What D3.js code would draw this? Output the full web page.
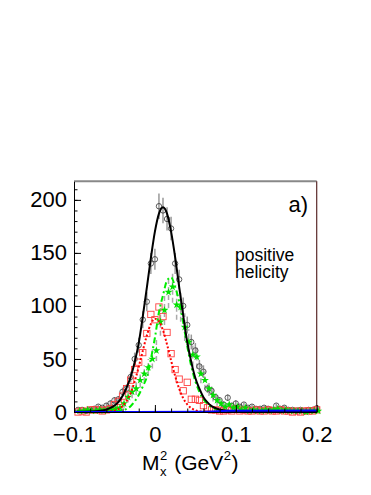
<!DOCTYPE html>
<html lang="en">
<head>
<meta charset="UTF-8">
<title>Missing mass squared, positive helicity</title>
<script src="https://d3js.org/d3.v7.min.js"></script>
<style>
  body { margin: 0; background: #fff; font-family: "Liberation Sans", Arial, sans-serif; }
  svg { display: block; }
  .axis text { font-family: "Liberation Sans", Arial, sans-serif; font-size: 22px; fill: #000; }
  .axis path, .axis line { stroke: #000; stroke-width: 1; }
</style>
</head>
<body>
<svg width="371" height="495"></svg>
<script>
// bin centres of the M_x^2 histograms (GeV^2), 0.005 wide
const binCenters = d3.range(60).map(i => +(-0.095 + 0.005 * i).toFixed(3));

// all events (open circles)
const totalCounts = [2, 2, 1, 2, 3, 5, 4, 6, 8, 11, 12, 19, 22, 33, 50, 63, 87, 104, 140, 144,
  194, 190, 182, 173, 140, 125, 100, 82, 66, 58, 43, 38, 22, 20, 14, 11, 7, 13.5, 6, 8,
  5, 7, 4, 5, 3, 3, 4, 3, 2, 6, 3, 4, 2, 2, 1, 2, 1, 2, 2, 3.5];
const totalErr = [1.5, 1.5, 1, 1.5, 2, 2, 2, 2.5, 3, 3, 3, 4, 4, 5, 6, 7, 8, 9, 10, 10,
  12, 12, 11, 11, 10, 9, 8, 8, 7, 7, 6, 6, 4, 4, 3, 3, 3, 3, 2, 3,
  2, 2, 2, 2, 2, 2, 2, 2, 2, 2, 2, 2, 2, 2, 2, 2, 2, 2, 2, 2];

// first component (red squares)
const redCounts = [0, 1, 0, 2, 2, 2, 1, 2, 3, 7, 10, 15, 22, 30, 40, 47, 56, 74, 92, 87,
  99, 90, 75, 55, 40, 31, 20, 28, 12, 12, 11, 6, 4, 2, 2, 1, 1, 2, 1, 3,
  1, 2, 1, 1, 2, 1, 1, 2, 1, 1, 2, 1, 1, 0, 1, 0, 1, 1, 1, 2];

// second component (green stars)
const greenCounts = [1, 1, 2, 1, 1, 2, 1, 2, 2, 3, 4, 8, 14, 19, 22, 30, 36, 42, 50, 58,
  85, 96, 113, 118, 101, 99, 80, 66, 54, 52, 36, 30, 22, 16, 11, 8, 5, 7, 4, 5,
  2, 4, 1, 2, 1, 1, 2, 1, 2, 3, 1, 2, 1, 1, 1, 1, 0, 1, 1, 1];
const greenErr = [1.5, 1.5, 1.5, 1.5, 1.5, 1.5, 1.5, 1.5, 1.5, 1.5, 1.5, 4, 5, 6, 6, 7, 8, 8, 9, 10,
  13, 14, 15, 15, 14, 14, 13, 12, 11, 11, 9, 9, 7, 6, 5, 4, 3, 3, 3, 3,
  2, 2, 2, 2, 2, 2, 2, 2, 2, 2, 2, 2, 2, 2, 2, 2, 2, 2, 2, 2];

// fitted curves, sampled on a common grid
const fitGrid = [-0.1, -0.08, -0.07, -0.06, -0.055, -0.05, -0.045, -0.04, -0.035, -0.03, -0.025,
  -0.02, -0.015, -0.01, -0.005, 0, 0.005, 0.01, 0.015, 0.02, 0.025, 0.03, 0.035, 0.04, 0.045,
  0.05, 0.055, 0.06, 0.065, 0.07, 0.08, 0.09, 0.1, 0.2];
const totalFit = [0.2, 0.5, 1.0, 2.2, 3.8, 6, 9.5, 15, 23, 33, 47,
  65, 90, 117, 145, 170, 187, 193, 187, 170, 146, 118, 91, 66, 47,
  32, 22, 14, 9, 5.5, 2.3, 1.1, 0.8, 0.8];
const redFit = [0, 0, 0, 0.3, 0.7, 1.2, 2.8, 5.5, 10.4, 18, 28.8,
  42.5, 57.6, 72, 83, 88, 85.7, 77, 63.7, 48.5, 34, 22, 13, 7.1, 3.6,
  1.7, 0.7, 0.3, 0.1, 0, 0, 0, 0, 0];
const greenFit = [0, 0, 0, 0, 0, 0.4, 0.8, 1.5, 3, 5.5, 10,
  16, 24, 33, 50, 70, 94, 110, 124, 127, 118, 104, 84, 62, 43,
  29, 19, 12, 7.5, 4.5, 1.8, 0.8, 0.5, 0.3];

// background
const bgX = [-0.1, 0.06, 0.09, 0.2];
const bgY = [0, 0.2, 1.1, 1.5];

const xTicks = [-0.1, 0, 0.1, 0.2];
const yTicks = [0, 50, 100, 150, 200];

const svg = d3.select("svg");
const plotLeft = 74, plotRight = 316.7, plotTop = 181.3, plotBottom = 412;

const x = d3.scaleLinear().domain([-0.1, 0.2]).range([plotLeft, plotRight]);
const y = d3.scaleLinear().domain([0, 217.5]).range([plotBottom, plotTop]);

// frame (top and right edges)
svg.append("line")
  .attr("x1", plotLeft).attr("x2", plotRight).attr("y1", plotTop).attr("y2", plotTop)
  .attr("stroke", "#888").attr("stroke-width", 2);
svg.append("line")
  .attr("x1", plotRight).attr("x2", plotRight).attr("y1", plotTop).attr("y2", plotBottom)
  .attr("stroke", "#5a2a2a").attr("stroke-width", 1.2);

const plot = svg.append("g");

// error bars
plot.selectAll(".err-total")
  .data(binCenters)
  .enter().append("line")
  .attr("x1", d => x(d)).attr("x2", d => x(d))
  .attr("y1", (d, i) => y(Math.max(0, totalCounts[i] - totalErr[i])))
  .attr("y2", (d, i) => y(totalCounts[i] + totalErr[i]))
  .attr("stroke", "#999").attr("stroke-width", 1.5);

plot.selectAll(".err-green")
  .data(binCenters)
  .enter().append("line")
  .attr("x1", d => x(d) + 1.5).attr("x2", d => x(d) + 1.5)
  .attr("y1", (d, i) => y(Math.max(0, greenCounts[i] - greenErr[i])))
  .attr("y2", (d, i) => y(greenCounts[i] + greenErr[i]))
  .attr("stroke", "#aaa").attr("stroke-width", 1.5)
  .attr("stroke-dasharray", "5,3");

// markers
plot.selectAll(".pt-total")
  .data(binCenters)
  .enter().append("circle")
  .attr("cx", d => x(d))
  .attr("cy", (d, i) => y(totalCounts[i]))
  .attr("r", 2.7)
  .attr("fill", "none").attr("stroke", "#333").attr("stroke-width", 0.8);

const sq = 6.3;
plot.selectAll(".pt-red")
  .data(binCenters)
  .enter().append("rect")
  .attr("x", d => x(d) - sq / 2)
  .attr("y", (d, i) => y(redCounts[i]) - sq / 2)
  .attr("width", sq).attr("height", sq)
  .attr("fill", "none").attr("stroke", "#ff4040").attr("stroke-width", 0.9);

const star = d3.symbol().type(d3.symbolStar).size(20);
plot.selectAll(".pt-green")
  .data(binCenters)
  .enter().append("path")
  .attr("d", star)
  .attr("transform", (d, i) => `translate(${x(d) + 1.5},${y(greenCounts[i])})`)
  .attr("fill", "#00e000");

// fit curves
const curve = d3.line().x(d => x(d[0])).y(d => y(d[1])).curve(d3.curveMonotoneX);
plot.append("path")
  .attr("d", curve(d3.zip(fitGrid, redFit)))
  .attr("fill", "none").attr("stroke", "#ff0000").attr("stroke-width", 2)
  .attr("stroke-dasharray", "2,2");
plot.append("path")
  .attr("d", curve(d3.zip(fitGrid, greenFit)))
  .attr("fill", "none").attr("stroke", "#00ee00").attr("stroke-width", 2)
  .attr("stroke-dasharray", "6,3,2,3");
plot.append("path")
  .attr("d", curve(d3.zip(fitGrid, totalFit)))
  .attr("fill", "none").attr("stroke", "#000").attr("stroke-width", 2);

// background line on top
plot.append("path")
  .attr("d", curve(d3.zip(bgX, bgY)))
  .attr("fill", "none").attr("stroke", "#0000ff").attr("stroke-width", 2);

// axes
const fmt = d3.format("~g");
svg.append("g").attr("class", "axis")
  .attr("transform", `translate(${plotLeft},0)`)
  .call(d3.axisLeft(y).tickValues(d3.range(0, 211, 10)).tickSize(-3.5).tickSizeOuter(0).tickFormat(""))
  .call(g => g.select(".domain").remove());
svg.append("g").attr("class", "axis")
  .attr("transform", `translate(${plotLeft},0)`)
  .call(d3.axisLeft(y).tickValues(yTicks).tickSize(-7).tickSizeOuter(0).tickPadding(7).tickFormat(fmt));

svg.append("g").attr("class", "axis")
  .attr("transform", `translate(0,${plotBottom})`)
  .call(d3.axisBottom(x).tickValues(d3.range(-0.1, 0.2001, 0.02)).tickSize(-3.5).tickSizeOuter(0).tickFormat(""))
  .call(g => g.select(".domain").remove());
svg.append("g").attr("class", "axis")
  .attr("transform", `translate(0,${plotBottom})`)
  .call(d3.axisBottom(x).tickValues(xTicks).tickSize(-7).tickSizeOuter(0).tickPadding(14).tickFormat(fmt));

// labels
svg.append("text")
  .attr("x", 308).attr("y", 212)
  .attr("text-anchor", "end")
  .style("font-size", "22px")
  .text("a)");
svg.append("text")
  .attr("x", 235).attr("y", 261)
  .style("font-size", "17.5px")
  .text("positive");
svg.append("text")
  .attr("x", 235).attr("y", 278)
  .style("font-size", "17.5px")
  .text("helicity");

// x title: M_x^2 (GeV^2), built piece by piece
const title = svg.append("g").style("font-size", "21px");
let cx = 142;
const base = 470;
const m = title.append("text").attr("x", cx).attr("y", base).text("M");
cx += m.node().getComputedTextLength() + 0.5;
title.append("text").attr("x", cx).attr("y", base + 6).style("font-size", "13px").text("x");
const s2 = title.append("text").attr("x", cx).attr("y", base - 10).style("font-size", "13px").text("2");
cx += s2.node().getComputedTextLength() + 7;
const g1 = title.append("text").attr("x", cx).attr("y", base).text("(GeV");
cx += g1.node().getComputedTextLength() + 0.5;
const s3 = title.append("text").attr("x", cx).attr("y", base - 10).style("font-size", "13px").text("2");
cx += s3.node().getComputedTextLength() + 0.5;
title.append("text").attr("x", cx).attr("y", base).text(")");
</script>
</body>
</html>
